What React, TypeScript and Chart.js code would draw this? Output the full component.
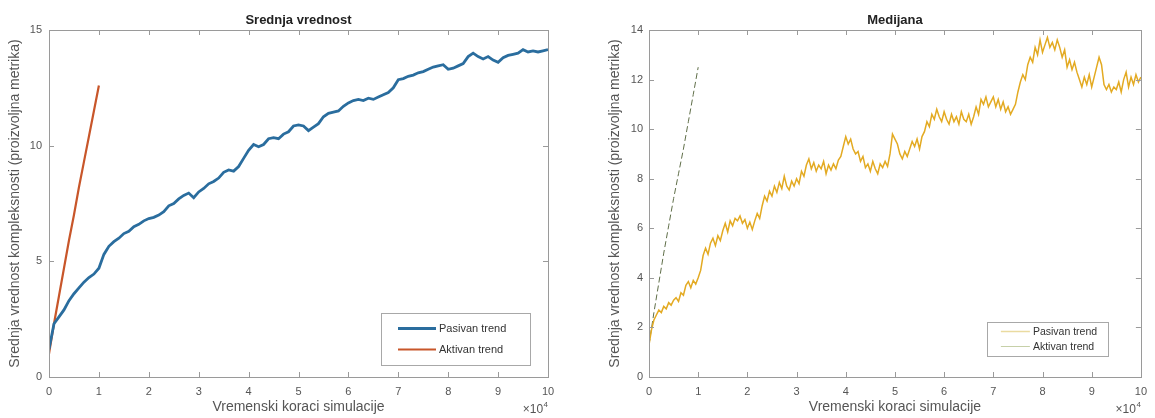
import React, { useEffect, useRef } from "react";
import { Chart, registerables } from "chart.js";

Chart.register(...registerables);

// ---------- data (x in units of 10^4 simulation steps) ----------
const X_TICKS = [0, 1, 2, 3, 4, 5, 6, 7, 8, 9, 10];
const Y_TICKS_MEAN = [0, 5, 10, 15];
const Y_TICKS_MEDIAN = [0, 2, 4, 6, 8, 10, 12, 14];

const MEAN_STEP = 0.1;
const MEAN_PASSIVE = [
  1.2, 2.3, 2.6, 2.9, 3.3, 3.6, 3.85, 4.1, 4.3, 4.45,
  4.7, 5.3, 5.65, 5.85, 6.0, 6.2, 6.3, 6.5, 6.6, 6.75,
  6.85, 6.9, 7.0, 7.15, 7.4, 7.5, 7.7, 7.85, 7.95, 7.75,
  8.0, 8.15, 8.35, 8.45, 8.6, 8.85, 8.95, 8.9, 9.1, 9.45,
  9.8, 10.05, 9.95, 10.05, 10.3, 10.35, 10.3, 10.5, 10.6, 10.85,
  10.9, 10.85, 10.65, 10.8, 10.95, 11.25, 11.4, 11.45, 11.5, 11.7,
  11.85, 11.95, 12.0, 11.95, 12.05, 12.0, 12.1, 12.2, 12.3, 12.5,
  12.85, 12.9, 13.0, 13.05, 13.15, 13.2, 13.3, 13.4, 13.45, 13.5,
  13.3, 13.35, 13.45, 13.55, 13.85, 14.0, 13.85, 13.75, 13.85, 13.7,
  13.6, 13.8, 13.9, 13.95, 14.0, 14.15, 14.05, 14.1, 14.05, 14.1,
  14.15,
];
const MEAN_ACTIVE = [1.0, 2.3, 3.5, 4.7, 5.9, 7.0, 8.2, 9.3, 10.4, 11.5, 12.6];

const MEDIAN_STEP = 0.05;
const MEDIAN_PASSIVE = [
  1.3, 1.9, 2.3, 2.5, 2.7, 2.6, 2.85, 2.75, 3.0, 2.9, 3.1, 3.2, 3.05, 3.4, 3.3, 3.7, 3.85, 3.6, 3.9, 3.75,
  4.0, 4.3, 4.9, 5.2, 4.95, 5.4, 5.6, 5.3, 5.7, 5.5, 5.9, 6.2, 5.85, 6.3, 6.1, 6.4, 6.3, 6.5, 6.2, 6.35,
  6.0, 6.25, 5.95, 6.3, 6.6, 6.4, 6.9, 7.3, 7.1, 7.5, 7.3, 7.7, 7.45, 7.85, 7.6, 8.1, 7.7, 7.55, 7.9, 7.7,
  8.0, 7.8, 8.3, 8.1, 8.55, 8.8, 8.4, 8.65, 8.3, 8.55, 8.4, 8.7, 8.2, 8.55, 8.35, 8.6, 8.4, 8.75, 8.9, 9.3,
  9.7, 9.4, 9.6, 9.2, 9.0, 9.1, 8.7, 8.9, 8.45, 8.6, 8.3, 8.7, 8.4, 8.2, 8.6, 8.45, 8.7, 8.5, 9.0, 9.8,
  9.6, 9.4, 9.0, 8.8, 9.1, 8.9, 9.2, 9.5, 9.3, 9.6, 9.2, 9.7, 9.9, 10.3, 10.1, 10.6, 10.4, 10.8, 10.5, 10.3,
  10.7, 10.4, 10.2, 10.6, 10.3, 10.5, 10.2, 10.7, 10.4, 10.3, 10.6, 10.2, 10.5, 10.9, 10.6, 11.2, 11.0, 11.3, 10.9, 11.1,
  11.3, 10.9, 11.2, 10.8, 11.1, 10.7, 10.9, 10.6, 10.8, 11.0, 11.5, 11.9, 12.2, 12.0, 12.6, 12.9, 12.7, 13.3, 13.0, 13.6,
  13.1, 13.4, 13.7, 13.3, 13.5, 13.2, 13.6, 13.3, 12.9, 13.2, 12.5, 12.8, 12.4, 12.7, 12.3, 12.0, 11.7, 12.1, 11.8, 12.2,
  11.7, 12.1, 12.5, 12.9, 12.6, 11.8, 11.6, 11.8, 11.5, 11.7, 11.6, 11.9, 11.5, 12.0, 12.3, 11.7, 12.1, 11.8, 12.2, 11.9,
  12.1,
];
const MEDIAN_ACTIVE_STEP = 0.1;
const MEDIAN_ACTIVE = [1.3, 2.6, 3.8, 5.0, 6.1, 7.2, 8.2, 9.2, 10.3, 11.4, 12.5];

const LABEL_PASSIVE = "Pasivan trend";
const LABEL_ACTIVE = "Aktivan trend";
const TITLE_MEAN = "Srednja vrednost";
const TITLE_MEDIAN = "Medijana";
const X_TITLE = "Vremenski koraci simulacije";
const Y_TITLE = "Srednja vrednost kompleksnosti (proizvoljna metrika)";

const FONT = "'Liberation Sans', Arial, Helvetica, sans-serif";
const AXIS_COLOR = "#9a9a9a";
const TEXT_COLOR = "#555555";

const toPoints = (vals: number[], step: number) =>
  vals.map((v, i) => ({ x: Math.round(i * step * 1000) / 1000, y: v }));

type PanelCfg = {
  title: string;
  yMax: number;
  yTicks: number[];
  datasets: any[];
  yWidth: number;
  xHeight: number;
  padTop: number;
  padRight: number;
  yTitlePad: number;
  yTickPad: number;
  legend: { right: number; bottom: number; w: number; h: number; lineLen: number; rowGap: number; font: number; lineInset: number };
};

const overlayPlugin = {
  id: "matlabOverlay",
  afterDatasetsDraw(chart: any, _args: any, opts: any) {
    const { ctx, chartArea: a } = chart;
    const xs = chart.scales.x;
    const ys = chart.scales.y;
    ctx.save();
    // box
    ctx.strokeStyle = AXIS_COLOR;
    ctx.lineWidth = 1;
    ctx.strokeRect(Math.round(a.left) + 0.5, Math.round(a.top) + 0.5, Math.round(a.right - a.left), Math.round(a.bottom - a.top));
    // inward ticks
    const tl = 5;
    ctx.beginPath();
    for (const t of xs.ticks) {
      const px = Math.round(xs.getPixelForValue(t.value)) + 0.5;
      ctx.moveTo(px, a.bottom);
      ctx.lineTo(px, a.bottom - tl);
      ctx.moveTo(px, a.top);
      ctx.lineTo(px, a.top + tl);
    }
    for (const t of ys.ticks) {
      const py = Math.round(ys.getPixelForValue(t.value)) + 0.5;
      ctx.moveTo(a.left, py);
      ctx.lineTo(a.left + tl, py);
      ctx.moveTo(a.right, py);
      ctx.lineTo(a.right - tl, py);
    }
    ctx.stroke();

    // title
    ctx.fillStyle = "#222";
    ctx.font = `bold 13px ${FONT}`;
    ctx.textAlign = "center";
    ctx.textBaseline = "middle";
    ctx.fillText(opts.title, (a.left + a.right) / 2, 20);

    // x10^4
    ctx.fillStyle = TEXT_COLOR;
    ctx.textAlign = "right";
    ctx.textBaseline = "alphabetic";
    ctx.font = `8px ${FONT}`;
    const supW = ctx.measureText("4").width;
    ctx.fillText("4", a.right, chart.height - 11);
    ctx.font = `12px ${FONT}`;
    ctx.fillText("\u00d710", a.right - supW - 0.5, chart.height - 5);

    // legend
    const L = opts.legend;
    const bx = a.right - L.right - L.w;
    const by = a.bottom - L.bottom - L.h;
    ctx.fillStyle = "#fff";
    ctx.fillRect(bx, by, L.w, L.h);
    ctx.strokeStyle = "#a8a8a8";
    ctx.strokeRect(Math.round(bx) + 0.5, Math.round(by) + 0.5, L.w, L.h);
    ctx.font = `${L.font}px ${FONT}`;
    ctx.textAlign = "left";
    ctx.textBaseline = "middle";
    const ds = chart.data.datasets;
    const y0 = by + L.h / 2 - L.rowGap / 2;
    ds.forEach((d: any, i: number) => {
      const y = y0 + i * L.rowGap;
      ctx.strokeStyle = d.legendColor || d.borderColor;
      ctx.lineWidth = d.borderWidth;
      ctx.setLineDash([]);
      ctx.beginPath();
      ctx.moveTo(bx + L.lineInset, y);
      ctx.lineTo(bx + L.lineInset + L.lineLen, y);
      ctx.stroke();
      ctx.fillStyle = "#333";
      ctx.fillText(d.label, bx + L.lineInset + L.lineLen + 3, y + 0.5);
    });
    ctx.restore();
  },
};

function Panel({ cfg, left, width }: { cfg: PanelCfg; left: number; width: number }) {
  const ref = useRef<HTMLCanvasElement | null>(null);
  useEffect(() => {
    if (!ref.current) return;
    const chart = new Chart(ref.current, {
      type: "line",
      data: { datasets: cfg.datasets },
      options: {
        responsive: false,
        animation: false,
        layout: { padding: { left: 0, top: cfg.padTop, right: cfg.padRight, bottom: 0 } },
        elements: { point: { radius: 0 } },
        plugins: {
          legend: { display: false },
          tooltip: { enabled: false },
          title: { display: false },
          matlabOverlay: { title: cfg.title, legend: cfg.legend },
        } as any,
        scales: {
          x: {
            type: "linear",
            min: 0,
            max: 10,
            afterBuildTicks: (s: any) => {
              s.ticks = X_TICKS.map((v) => ({ value: v }));
            },
            afterFit: (s: any) => {
              s.height = cfg.xHeight;
            },
            grid: { display: false, drawTicks: false },
            border: { display: false },
            ticks: { color: TEXT_COLOR, font: { family: FONT, size: 11 }, padding: 8, maxRotation: 0, autoSkip: false },
            title: { display: true, text: X_TITLE, color: TEXT_COLOR, font: { family: FONT, size: 14 }, padding: { top: 0, bottom: 2.5 } },
          },
          y: {
            type: "linear",
            min: 0,
            max: cfg.yMax,
            afterBuildTicks: (s: any) => {
              s.ticks = cfg.yTicks.map((v) => ({ value: v }));
            },
            afterFit: (s: any) => {
              s.width = cfg.yWidth;
            },
            grid: { display: false, drawTicks: false },
            border: { display: false },
            ticks: { color: TEXT_COLOR, font: { family: FONT, size: 11 }, padding: cfg.yTickPad, autoSkip: false },
            title: { display: true, text: Y_TITLE, color: TEXT_COLOR, font: { family: FONT, size: 14 }, padding: { top: cfg.yTitlePad, bottom: 0 } },
          },
        },
      },
      plugins: [overlayPlugin],
    });
    return () => chart.destroy();
  }, []);
  return (
    <div style={{ position: "absolute", left, top: 0, width, height: 418 }}>
      <canvas ref={ref} width={width} height={418} style={{ display: "block" }} />
    </div>
  );
}

const meanCfg: PanelCfg = {
  title: TITLE_MEAN,
  yMax: 15,
  yTicks: Y_TICKS_MEAN,
  yWidth: 49,
  xHeight: 41,
  padTop: 30,
  padRight: 51,
  yTitlePad: 6.5,
  yTickPad: 7,
  legend: { right: 18, bottom: 12, w: 149, h: 52, lineLen: 38, rowGap: 21, font: 11, lineInset: 17 },
  datasets: [
    {
      label: LABEL_PASSIVE,
      data: toPoints(MEAN_PASSIVE, MEAN_STEP),
      borderColor: "#2a6d9e",
      borderWidth: 2.8,
      tension: 0,
      fill: false,
    },
    {
      label: LABEL_ACTIVE,
      data: toPoints(MEAN_ACTIVE, MEAN_STEP),
      borderColor: "#c8562a",
      borderWidth: 2.2,
      tension: 0,
      fill: false,
    },
  ],
};

const medianCfg: PanelCfg = {
  title: TITLE_MEDIAN,
  yMax: 14,
  yTicks: Y_TICKS_MEDIAN,
  yWidth: 50,
  xHeight: 41,
  padTop: 30,
  padRight: 7,
  yTitlePad: 7.5,
  yTickPad: 6,
  legend: { right: 33, bottom: 21, w: 121, h: 34, lineLen: 29, rowGap: 15, font: 10.5, lineInset: 14 },
  datasets: [
    {
      label: LABEL_PASSIVE,
      data: toPoints(MEDIAN_PASSIVE, MEDIAN_STEP),
      borderColor: "#e3aa22",
      legendColor: "#eadba0",
      borderWidth: 1.5,
      tension: 0,
      fill: false,
    },
    {
      label: LABEL_ACTIVE,
      data: toPoints(MEDIAN_ACTIVE, MEDIAN_ACTIVE_STEP),
      borderColor: "#5f6e48",
      legendColor: "#c6d0a8",
      borderWidth: 1,
      borderDash: [6, 3],
      tension: 0,
      fill: false,
    },
  ],
};

export default function App() {
  return (
    <div style={{ position: "fixed", left: 0, top: 0, width: 1155, height: 418, background: "#fff", overflow: "hidden" }}>
      <Panel cfg={meanCfg} left={0} width={599} />
      <Panel cfg={medianCfg} left={599} width={556} />
    </div>
  );
}
